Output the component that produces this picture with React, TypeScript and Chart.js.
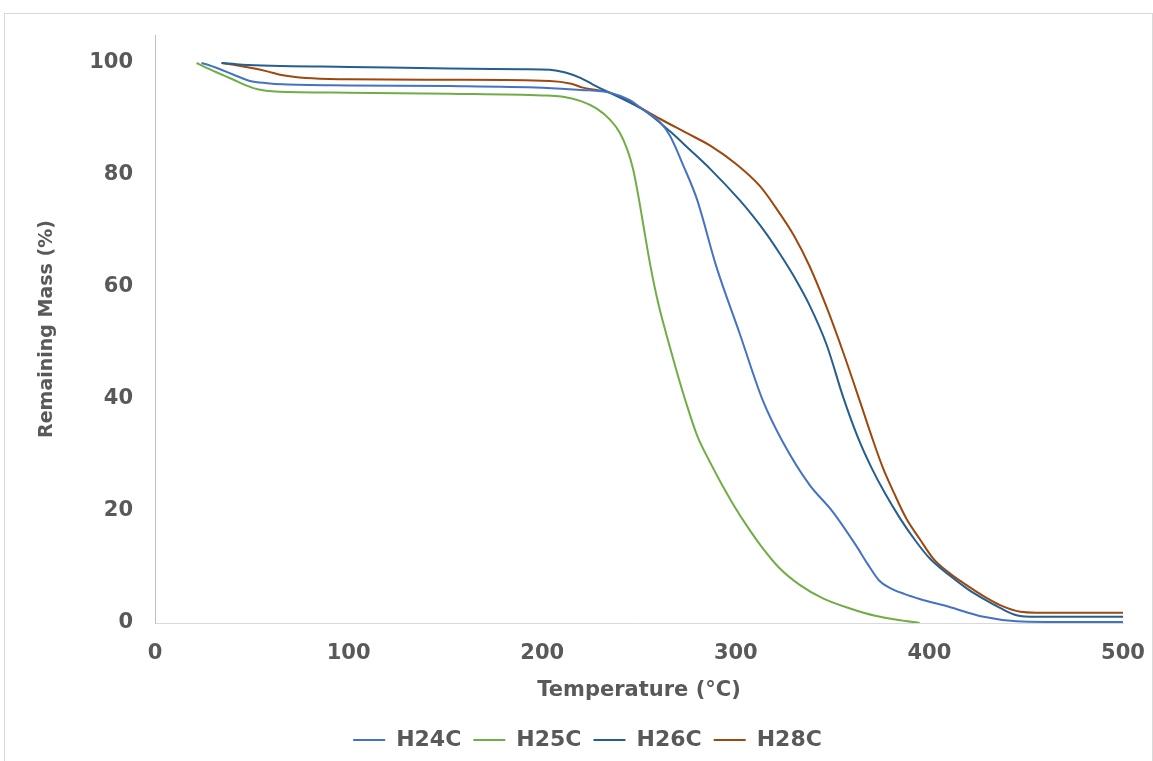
import { useEffect, useRef } from "react";
import { Chart, registerables } from "chart.js";

Chart.register(...registerables);

const h24cTemp = [24, 28, 32, 40, 49, 58, 66, 100, 152, 200, 220, 235, 245, 252, 261, 266, 273, 280, 290, 302, 314, 324, 338, 350, 362, 368, 374, 380, 387, 395, 410, 428, 445, 460, 500];
const h24cMass = [100, 99.6, 99.1, 98, 96.8, 96.4, 96.2, 96.0, 95.9, 95.6, 95.2, 94.7, 93.4, 91.7, 89.4, 87, 81.6, 75.6, 63.6, 51.7, 39.7, 32.5, 24.7, 19.9, 13.9, 10.6, 7.6, 6.2, 5.2, 4.3, 2.9, 1.1, 0.3, 0.2, 0.2];

const h25cTemp = [21.5, 25, 32, 40, 47, 53, 62, 100, 152, 200, 210, 220, 228, 235, 240, 244, 247, 250, 253, 256, 260, 264, 269, 274, 280, 287, 293, 299, 306, 312.5, 322, 333, 345, 359, 372, 385, 395];
const h25cMass = [100, 99.4, 98.3, 97.1, 96, 95.3, 94.9, 94.7, 94.5, 94.2, 94.0, 93.2, 91.9, 89.9, 87.6, 84.5, 81, 75.6, 69.5, 63.6, 57, 51.7, 45.5, 39.7, 33.5, 28.5, 24.6, 21, 17.2, 14, 10, 6.8, 4.4, 2.6, 1.3, 0.5, 0];

const h26cTemp = [34.4, 45, 60, 100, 152, 190, 204, 212, 220, 226, 238.5, 252, 266, 276, 287, 302, 309, 316, 323, 330, 338, 347, 355.5, 363, 370, 377, 385, 393, 400, 410, 420, 428, 437, 445, 455, 500];
const h26cMass = [100, 99.7, 99.5, 99.3, 99.0, 98.9, 98.8, 98.3, 97.3, 96.2, 94.1, 91.7, 87.8, 84.6, 81, 75.5, 72.6, 69.4, 65.8, 61.9, 56.8, 49.6, 40.3, 33.2, 27.8, 23.2, 18.6, 14.6, 11.6, 8.6, 6, 4.3, 2.6, 1.4, 1.1, 1.1];

const h28cTemp = [34.4, 42, 50, 58, 66, 78, 100, 152, 204, 215, 221, 235, 248, 261, 274, 287, 300, 312.5, 321, 330, 338, 347, 355.5, 364, 370, 376, 382, 388, 395, 402, 410, 419, 428, 436.5, 447, 455, 500];
const h28cMass = [100, 99.6, 99.1, 98.5, 97.8, 97.3, 97.1, 97.0, 96.8, 96.3, 95.6, 94.7, 92.5, 90, 87.6, 85.2, 82, 78, 74.0, 69.2, 63.8, 56.3, 48.3, 39.7, 33.5, 27.7, 23, 18.7, 15, 11.5, 9, 6.8, 4.8, 3.2, 2.0, 1.85, 1.85];

const seriesNames = ["H24C", "H25C", "H26C", "H28C"];
const seriesColors = ["#4472C4", "#70AD47", "#255E91", "#9E480E"];
const xTickValues = [0, 100, 200, 300, 400, 500];
const yTickValues = [0, 20, 40, 60, 80, 100];
const xTitle = "Temperature (°C)";
const yTitle = "Remaining Mass (%)";

export default function App() {
  const ref = useRef<HTMLCanvasElement>(null);

  useEffect(() => {
    const temps = [h24cTemp, h25cTemp, h26cTemp, h28cTemp];
    const masses = [h24cMass, h25cMass, h26cMass, h28cMass];
    const textColor = "#595959";
    const chart = new Chart(ref.current!, {
      type: "line",
      data: {
        datasets: seriesNames.map((name, i) => ({
          label: name,
          data: temps[i].map((t, j) => ({ x: t, y: masses[i][j] })),
          borderColor: seriesColors[i],
          backgroundColor: seriesColors[i],
          borderWidth: 2,
          pointRadius: 0,
          fill: false,
          cubicInterpolationMode: "monotone" as const,
        })),
      },
      options: {
        animation: false,
        responsive: false,
        maintainAspectRatio: false,
        layout: { padding: { top: 35, right: 30, left: 52, bottom: 0 } },
        plugins: {
          tooltip: { enabled: false },
          legend: {
            position: "bottom",
            labels: {
              boxWidth: 32,
              boxHeight: 2,
              padding: 12,
              color: textColor,
              font: { family: "DejaVu Sans", size: 22, weight: "bold" },
              generateLabels: (c: any) => {
                const items = Chart.defaults.plugins.legend.labels.generateLabels(c);
                return items.map((it: any) => ({ ...it, lineWidth: 0 }));
              },
            },
          },
        },
        scales: {
          x: {
            type: "linear",
            min: 0,
            max: 500,
            afterBuildTicks: (s: any) => {
              s.ticks = xTickValues.map((v) => ({ value: v }));
            },
            afterFit: (s: any) => {
              s.height = 94;
              s.paddingLeft = 0;
              s.paddingRight = 0;
            },
            grid: { display: false, drawTicks: false },
            border: { display: true, color: "#d9d9d9", width: 1 },
            ticks: {
              color: textColor,
              padding: 18,
              maxRotation: 0,
              font: { family: "DejaVu Sans", size: 21, weight: "bold" },
            },
            title: {
              display: true,
              text: xTitle,
              color: textColor,
              padding: { top: 0, bottom: 14 },
              font: { family: "DejaVu Sans", size: 21, weight: "bold" },
            },
          },
          y: {
            type: "linear",
            min: 0,
            max: 105,
            afterBuildTicks: (s: any) => {
              s.ticks = yTickValues.map((v) => ({ value: v }));
            },
            afterFit: (s: any) => {
              s.width = 103;
            },
            grid: { display: false, drawTicks: false },
            border: { display: true, color: "#bfbfbf", width: 1 },
            ticks: {
              color: textColor,
              padding: 22,
              font: { family: "DejaVu Sans", size: 21, weight: "bold" },
            },
            title: {
              display: true,
              text: yTitle,
              color: textColor,
              padding: { top: -16, bottom: 0 },
              font: { family: "DejaVu Sans", size: 19, weight: "bold" },
            },
          },
        },
      },
    });
    return () => chart.destroy();
  }, []);

  return (
    <div style={{ position: "fixed", left: 0, top: 0, width: 1153, height: 761, background: "#fff", overflow: "hidden" }}>
      <div
        style={{
          position: "absolute",
          left: 4,
          top: 13,
          width: 1149,
          height: 760,
          border: "1px solid #d9d9d9",
          boxSizing: "border-box",
        }}
      />
      <canvas ref={ref} width={1153} height={761} style={{ position: "absolute", left: 0, top: 0 }} />
    </div>
  );
}
